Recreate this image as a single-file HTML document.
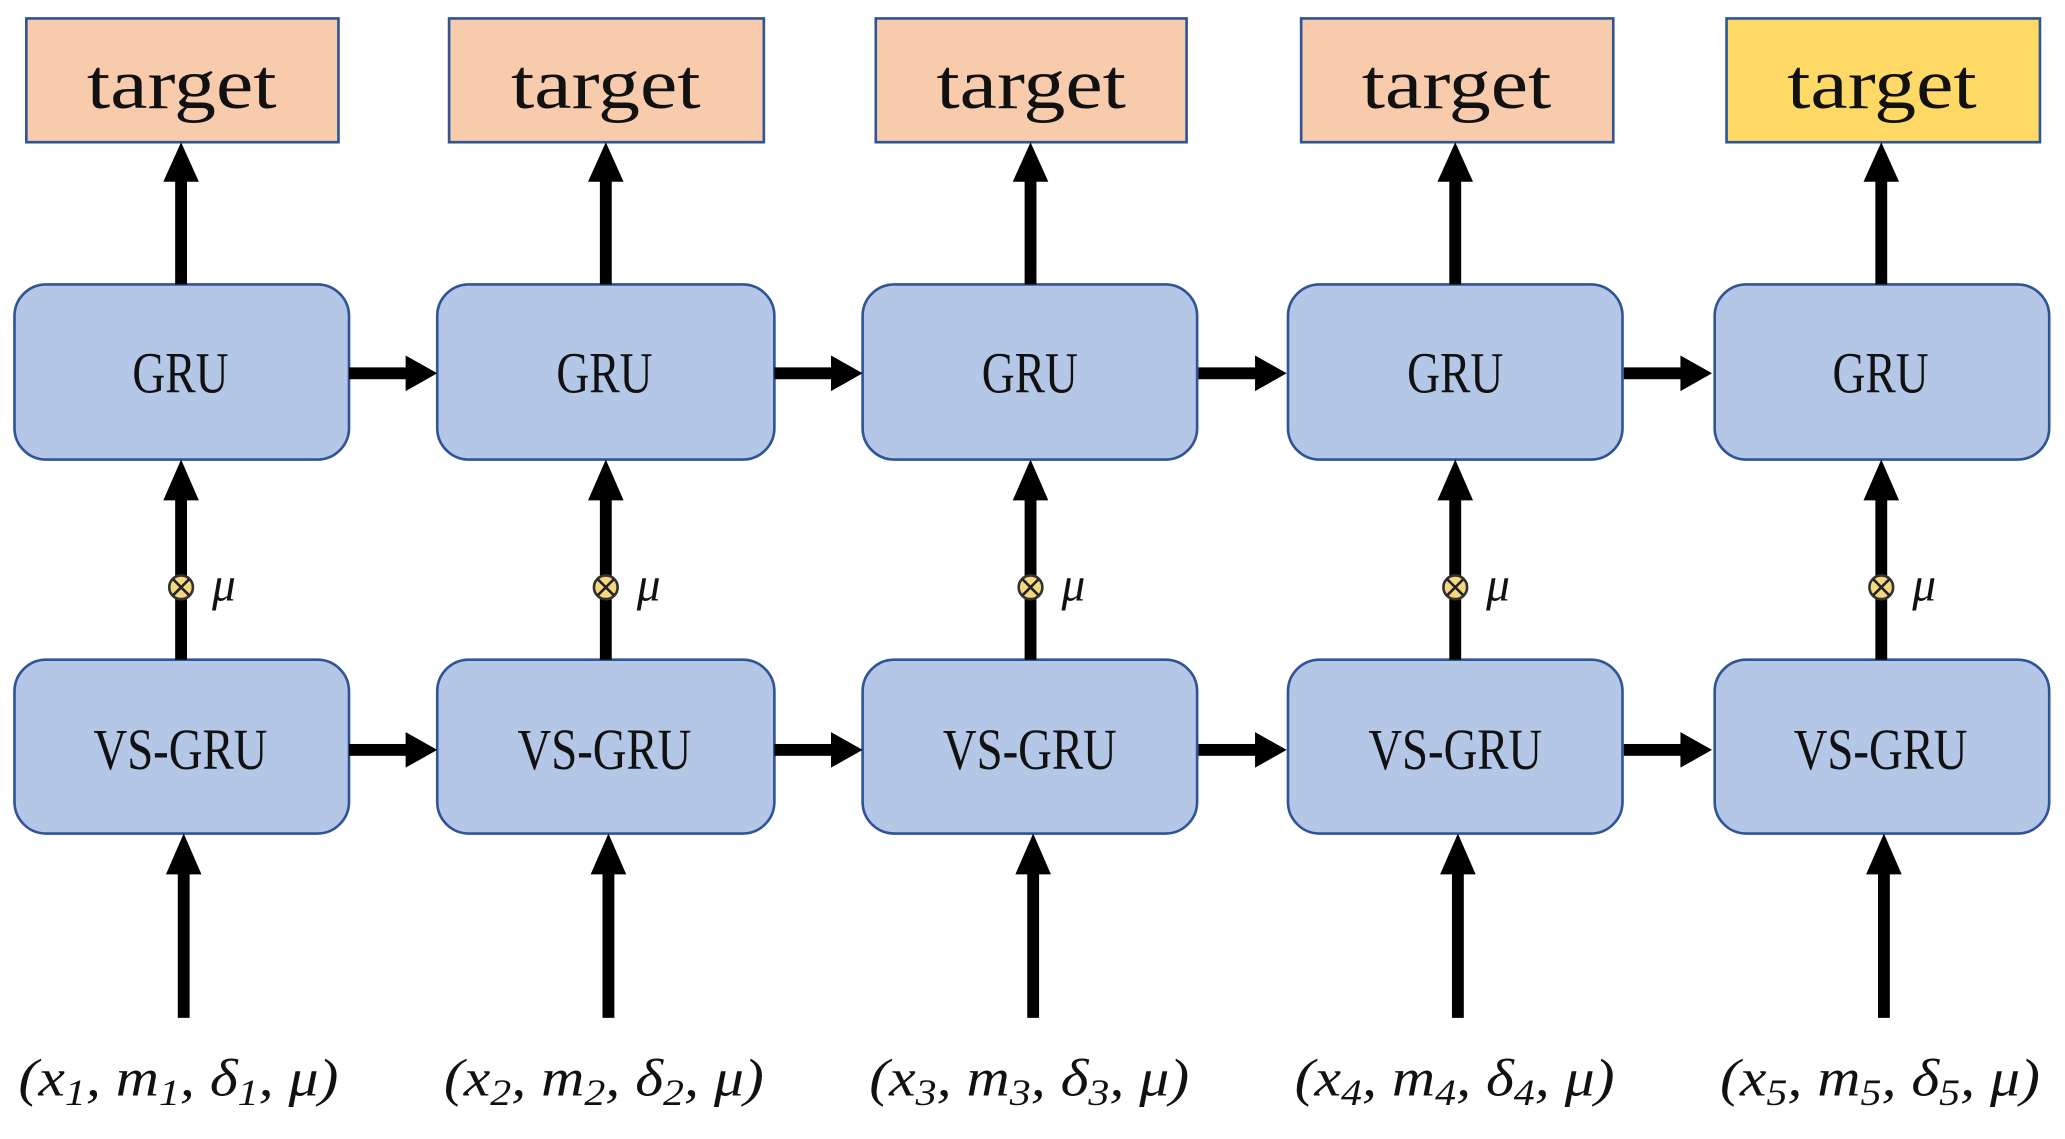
<!DOCTYPE html>
<html><head><meta charset="utf-8"><style>html,body{margin:0;padding:0;background:#fff}svg{display:block}</style></head>
<body>
<svg width="2065" height="1139" viewBox="0 0 1568 865" preserveAspectRatio="none" xmlns="http://www.w3.org/2000/svg">
<g font-family="'Liberation Serif', serif">
<g stroke="#2f5597" stroke-width="2">
<rect x="20" y="14" width="237" height="94" fill="#f8cbad"/>
<rect x="341" y="14" width="239" height="94" fill="#f8cbad"/>
<rect x="665" y="14" width="236" height="94" fill="#f8cbad"/>
<rect x="988" y="14" width="237" height="94" fill="#f8cbad"/>
<rect x="1311" y="14" width="238" height="94" fill="#ffd966"/>
<rect x="11" y="216" width="254" height="133" rx="24" fill="#b4c7e7"/>
<rect x="332" y="216" width="256" height="133" rx="24" fill="#b4c7e7"/>
<rect x="655" y="216" width="254" height="133" rx="24" fill="#b4c7e7"/>
<rect x="978" y="216" width="254" height="133" rx="24" fill="#b4c7e7"/>
<rect x="1302" y="216" width="254" height="133" rx="24" fill="#b4c7e7"/>
<rect x="11" y="501" width="254" height="132" rx="24" fill="#b4c7e7"/>
<rect x="332" y="501" width="256" height="132" rx="24" fill="#b4c7e7"/>
<rect x="655" y="501" width="254" height="132" rx="24" fill="#b4c7e7"/>
<rect x="978" y="501" width="254" height="132" rx="24" fill="#b4c7e7"/>
<rect x="1302" y="501" width="254" height="132" rx="24" fill="#b4c7e7"/>
</g>
<g font-size="54" fill="#111" text-anchor="middle">
<text x="138" y="82" textLength="144" lengthAdjust="spacingAndGlyphs">target</text>
<text x="460" y="82" textLength="144" lengthAdjust="spacingAndGlyphs">target</text>
<text x="783" y="82" textLength="144" lengthAdjust="spacingAndGlyphs">target</text>
<text x="1106" y="82" textLength="144" lengthAdjust="spacingAndGlyphs">target</text>
<text x="1429" y="82" textLength="144" lengthAdjust="spacingAndGlyphs">target</text>
</g>
<g font-size="44" fill="#111" text-anchor="middle">
<text x="137" y="298" textLength="73" lengthAdjust="spacingAndGlyphs">GRU</text>
<text x="459" y="298" textLength="73" lengthAdjust="spacingAndGlyphs">GRU</text>
<text x="782" y="298" textLength="73" lengthAdjust="spacingAndGlyphs">GRU</text>
<text x="1105" y="298" textLength="73" lengthAdjust="spacingAndGlyphs">GRU</text>
<text x="1428" y="298" textLength="73" lengthAdjust="spacingAndGlyphs">GRU</text>
<text x="137" y="584" textLength="132" lengthAdjust="spacingAndGlyphs">VS-GRU</text>
<text x="459" y="584" textLength="132" lengthAdjust="spacingAndGlyphs">VS-GRU</text>
<text x="782" y="584" textLength="132" lengthAdjust="spacingAndGlyphs">VS-GRU</text>
<text x="1105" y="584" textLength="132" lengthAdjust="spacingAndGlyphs">VS-GRU</text>
<text x="1428" y="584" textLength="132" lengthAdjust="spacingAndGlyphs">VS-GRU</text>
</g>
<g fill="#000">
<g id="a">
<rect x="133" y="134" width="9" height="82"/><polygon points="124,138 151,138 137.5,108"/>
<rect x="133" y="376" width="9" height="125"/><polygon points="124,380 151,380 137.5,349"/>
<rect x="135" y="660" width="9" height="113"/><polygon points="126,664 153,664 139.5,633"/>
</g>
<use href="#a" x="322.5"/>
<use href="#a" x="645"/>
<use href="#a" x="967.5"/>
<use href="#a" x="1291"/>
<g id="h">
<rect x="265" y="279" width="46" height="9"/><polygon points="308,270 308,297 332,283.5"/>
<rect x="265" y="565" width="46" height="9"/><polygon points="308,556 308,583 332,569.5"/>
</g>
<use href="#h" x="323"/>
<use href="#h" x="645"/>
<use href="#h" x="968"/>
</g>
<g id="o">
<circle cx="137.5" cy="446" r="9" fill="#f5d77e" stroke="#333" stroke-width="2"/>
<path d="M131.5 440 L143.5 452 M143.5 440 L131.5 452" stroke="#222" stroke-width="2"/>
<text x="161" y="456" font-size="36" font-style="italic" fill="#111">μ</text>
</g>
<use href="#o" x="322.5"/>
<use href="#o" x="645"/>
<use href="#o" x="967.5"/>
<use href="#o" x="1291"/>
<g font-size="40" font-style="italic" fill="#111">
<text x="14" y="832" textLength="243" lengthAdjust="spacingAndGlyphs">(x<tspan font-size="28" dy="7">1</tspan><tspan dy="-7">, m</tspan><tspan font-size="28" dy="7">1</tspan><tspan dy="-7">, δ</tspan><tspan font-size="28" dy="7">1</tspan><tspan dy="-7">, μ)</tspan></text>
<text x="337" y="832" textLength="243" lengthAdjust="spacingAndGlyphs">(x<tspan font-size="28" dy="7">2</tspan><tspan dy="-7">, m</tspan><tspan font-size="28" dy="7">2</tspan><tspan dy="-7">, δ</tspan><tspan font-size="28" dy="7">2</tspan><tspan dy="-7">, μ)</tspan></text>
<text x="660" y="832" textLength="243" lengthAdjust="spacingAndGlyphs">(x<tspan font-size="28" dy="7">3</tspan><tspan dy="-7">, m</tspan><tspan font-size="28" dy="7">3</tspan><tspan dy="-7">, δ</tspan><tspan font-size="28" dy="7">3</tspan><tspan dy="-7">, μ)</tspan></text>
<text x="983" y="832" textLength="243" lengthAdjust="spacingAndGlyphs">(x<tspan font-size="28" dy="7">4</tspan><tspan dy="-7">, m</tspan><tspan font-size="28" dy="7">4</tspan><tspan dy="-7">, δ</tspan><tspan font-size="28" dy="7">4</tspan><tspan dy="-7">, μ)</tspan></text>
<text x="1306" y="832" textLength="243" lengthAdjust="spacingAndGlyphs">(x<tspan font-size="28" dy="7">5</tspan><tspan dy="-7">, m</tspan><tspan font-size="28" dy="7">5</tspan><tspan dy="-7">, δ</tspan><tspan font-size="28" dy="7">5</tspan><tspan dy="-7">, μ)</tspan></text>
</g>
</g>
</svg>
</body></html>
